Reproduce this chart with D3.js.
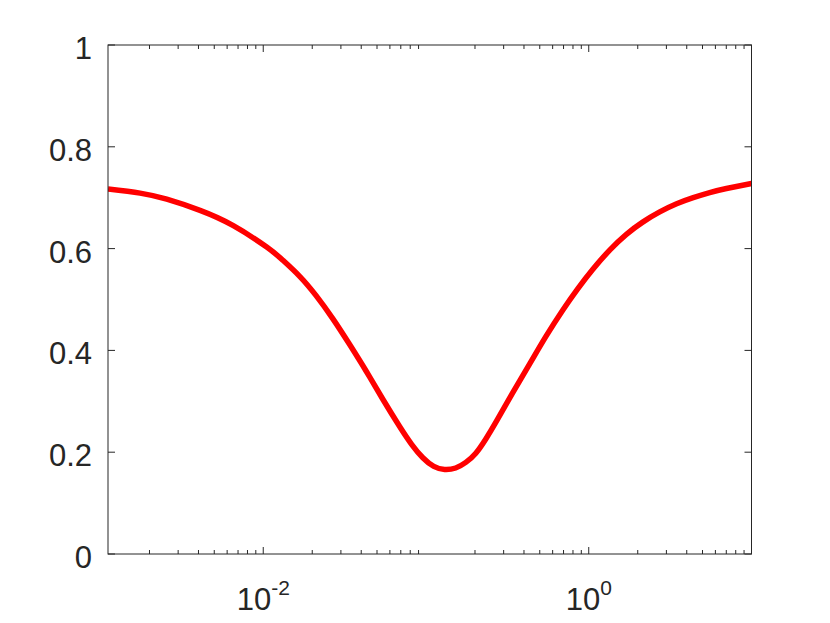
<!DOCTYPE html>
<html>
<head>
<meta charset="utf-8">
<script src="https://cdn.jsdelivr.net/npm/d3@7"></script>
<style>
  html, body { margin: 0; padding: 0; background: #fff; }
  svg { display: block; }
  text { font-family: "Liberation Sans", Arial, Helvetica, sans-serif; fill: #262626; }
</style>
</head>
<body>
<script>
// ---- data ----
const xValues = [0.001112, 0.00175, 0.002553, 0.004087, 0.006547, 0.0105, 0.01321, 0.0168, 0.02107, 0.0268,
                 0.03404, 0.04313, 0.0543, 0.06902, 0.0818, 0.09567, 0.1117, 0.1301, 0.1521, 0.1756,
                 0.2023, 0.2331, 0.2711, 0.3414, 0.4345, 0.5445, 0.6918, 0.8551, 1.057, 1.345,
                 1.703, 2.146, 2.73, 3.467, 4.385, 5.536, 7.015, 10];
const yValues = [0.717, 0.709, 0.697, 0.675, 0.645, 0.603, 0.577, 0.545, 0.508, 0.462,
                 0.411, 0.358, 0.304, 0.250, 0.215, 0.189, 0.172, 0.166, 0.169, 0.180,
                 0.198, 0.226, 0.261, 0.317, 0.374, 0.427, 0.479, 0.521, 0.559, 0.597,
                 0.628, 0.652, 0.672, 0.688, 0.700, 0.710, 0.718, 0.728];
const xMajorTicks = [0.01, 1];
const xMajorLabels = [["10", "-2"], ["10", "0"]];
const yTicks = [0, 0.2, 0.4, 0.6, 0.8, 1];
const yTickLabels = ["0", "0.2", "0.4", "0.6", "0.8", "1"];
const xDomain = [0.001112, 10];
const yDomain = [0, 1];

// ---- layout ----
const W = 830, H = 623;
const mLeft = 108, mRight = 751.5, mTop = 45, mBottom = 554;
const axisColor = "#262626";

const svg = d3.select("body").append("svg").attr("width", W).attr("height", H);

const x = d3.scaleLog().domain(xDomain).range([mLeft, mRight]);
const y = d3.scaleLinear().domain(yDomain).range([mBottom, mTop]);

// minor ticks on log axis
const minorTicks = [];
for (let e = -3; e <= 0; e++) {
  for (let m = 2; m <= 9; m++) {
    const v = m * Math.pow(10, e);
    if (v >= xDomain[0] && v <= xDomain[1]) minorTicks.push(v);
  }
}

// ---- curve ----
const line = d3.line()
  .x((d, i) => x(xValues[i]))
  .y((d, i) => y(yValues[i]))
  .curve(d3.curveNatural);

svg.append("clipPath").attr("id", "clip")
  .append("rect").attr("x", mLeft).attr("y", mTop - 5).attr("width", mRight - mLeft).attr("height", mBottom - mTop + 10);

svg.append("path")
  .datum(yValues)
  .attr("d", line)
  .attr("fill", "none")
  .attr("stroke", "#ff0000")
  .attr("stroke-width", 5.5)
  .attr("stroke-linejoin", "round")
  .attr("clip-path", "url(#clip)");

// ---- axes ----
const g = svg.append("g");
g.append("rect")
  .attr("x", mLeft).attr("y", mTop)
  .attr("width", mRight - mLeft).attr("height", mBottom - mTop)
  .attr("fill", "none").attr("stroke", axisColor).attr("stroke-width", 1);

minorTicks.forEach(v => {
  const px = x(v);
  g.append("line").attr("x1", px).attr("x2", px).attr("y1", mBottom).attr("y2", mBottom - 4)
    .attr("stroke", axisColor).attr("stroke-width", 1);
  g.append("line").attr("x1", px).attr("x2", px).attr("y1", mTop).attr("y2", mTop + 4)
    .attr("stroke", axisColor).attr("stroke-width", 1);
});
xMajorTicks.forEach((v, i) => {
  const px = x(v);
  g.append("line").attr("x1", px).attr("x2", px).attr("y1", mBottom).attr("y2", mBottom - 7)
    .attr("stroke", axisColor).attr("stroke-width", 1);
  g.append("line").attr("x1", px).attr("x2", px).attr("y1", mTop).attr("y2", mTop + 7)
    .attr("stroke", axisColor).attr("stroke-width", 1);
  const t = g.append("text")
    .attr("x", px).attr("y", 610)
    .attr("text-anchor", "middle")
    .attr("font-size", 31);
  t.append("tspan").text(xMajorLabels[i][0]);
  t.append("tspan").text(xMajorLabels[i][1])
    .attr("font-size", 21).attr("dy", -15);
});
yTicks.forEach((v, i) => {
  const py = y(v);
  g.append("line").attr("x1", mLeft).attr("x2", mLeft + 7).attr("y1", py).attr("y2", py)
    .attr("stroke", axisColor).attr("stroke-width", 1);
  g.append("line").attr("x1", mRight).attr("x2", mRight - 7).attr("y1", py).attr("y2", py)
    .attr("stroke", axisColor).attr("stroke-width", 1);
  g.append("text")
    .attr("x", 92).attr("y", py + 14)
    .attr("text-anchor", "end")
    .attr("font-size", 31)
    .text(yTickLabels[i]);
});
</script>
</body>
</html>
